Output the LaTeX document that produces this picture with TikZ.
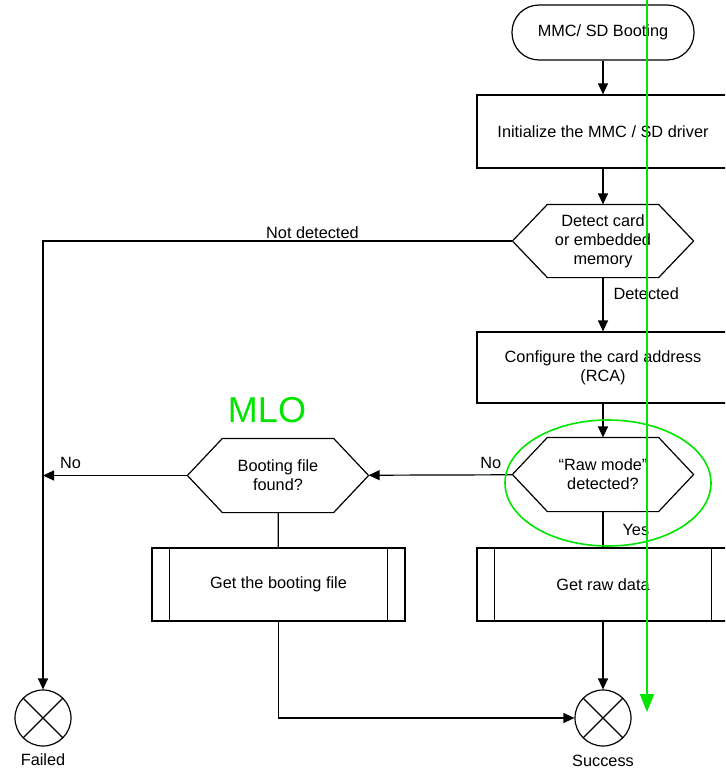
\documentclass[tikz,border=0pt]{standalone}
\usepackage{fontspec}
\setmainfont{Liberation Sans}
\usetikzlibrary{arrows.meta}

\begin{document}
\begin{tikzpicture}[x=1pt, y=-1pt, line width=1.2pt,
	every node/.style={font=\fontsize{16.3}{19}\selectfont, align=center},
	>={Triangle[length=11pt, width=10pt]},
	stepbox/.style={draw, minimum width=252, minimum height=73},
	decide/.style={minimum width=180, minimum height=72, inner sep=0pt},
	endpoint/.style={draw, circle, minimum size=56, inner sep=0pt,
		path picture={\draw (path picture bounding box.north west) -- (path picture bounding box.south east)
			(path picture bounding box.north east) -- (path picture bounding box.south west);}},
	note/.style={inner sep=1pt},
	greenmark/.style={draw=green!90!black, line width=1.6pt}]
	\useasboundingbox (0,0) rectangle (725,770);
	\clip (0,0) rectangle (725,770);

	\node[draw, rounded corners=27, minimum width=182, minimum height=55] (start) at (603,32.5) {MMC/ SD Booting};
	\node[stepbox] (init) at (603,131.5) {Initialize the MMC / SD driver};
	\node[decide] (detect) at (603,241) {Detect card\\or embedded\\memory};
	\node[stepbox, minimum height=71] (config) at (603,367.5) {Configure the card address\\(RCA)};
	\node[decide, minimum height=73] (raw) at (603,474.5) {``Raw mode''\\detected?};
	\node[decide, minimum height=73] (found) at (278,475.5) {Booting file\\found?};
	\node[stepbox, minimum width=253] (getfile) at (278.5,584.5) {Get the booting file};
	\node[stepbox] (getraw) at (603,584.5) {Get raw data};
	\node[endpoint] (failed) at (43,718) {};
	\node[endpoint] (success) at (603,718) {};
	\node[note, below=5pt] (failtxt) at (failed.south) {Failed};
	\node[note, below=7pt] (succtxt) at (success.south) {Success};

	% hexagon outlines for the decisions
	\foreach \n in {detect,raw,found}
		\draw (\n.west) -- ([xshift=35]\n.north west) -- ([xshift=-35]\n.north east) -- (\n.east)
			-- ([xshift=-35]\n.south east) -- ([xshift=35]\n.south west) -- cycle;
	% side bars of the predefined processes
	\foreach \n in {getfile,getraw}
		\draw ([xshift=18]\n.north west) -- ([xshift=18]\n.south west)
			([xshift=-18]\n.north east) -- ([xshift=-18]\n.south east);

	\draw[->] (start) -- (init);
	\draw[->] (init) -- (detect);
	\draw[->] (detect.west) -| node[note, pos=0.213, above=1pt] (lblnot) {Not detected} (failed);
	\draw[->] (detect) -- node[note, pos=0.3, right=9pt] (lbldet) {Detected} (config);
	\draw[->] (config) -- (raw);
	\draw[->] (raw) -- node[note, pos=0.15, above=5pt] (lblno) {No} (found);
	\draw[->] (found.west) -- node[note, pos=0.81, above=5pt] (lblno2) {No} (found.west -| failed);
	\draw (raw) -- node[note, right=18pt] (lblyes) {Yes} (getraw);
	\draw (found) -- (getfile);
	\draw[->] (getraw) -- (success);
	\draw[->] (getfile) |- (success);

	% green markings
	\node[text=green!90!black, font=\fontsize{36}{40}\selectfont] (mlo) at (267,410) {MLO};
	\draw[greenmark] (608,483) ellipse [x radius=103, y radius=63];
	\coordinate (gtop) at (647,0);
	\coordinate (gend) at (647,712);
	\draw[greenmark, -{Triangle[length=18pt, width=14pt]}] (gtop) -- (gend);
\end{tikzpicture}
\end{document}
